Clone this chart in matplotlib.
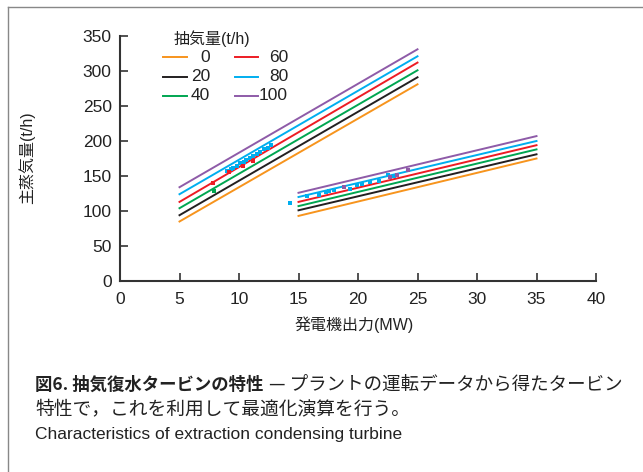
import matplotlib
matplotlib.use('Agg')
import matplotlib.pyplot as plt
from matplotlib.lines import Line2D

plt.rcParams['font.family'] = ['Liberation Sans', 'Noto Sans CJK JP', 'DejaVu Sans']

# ---- data ----
extraction = [0, 20, 40, 60, 80, 100]
labels = ['0', '20', '40', '60', '80', '100']
colors = ['#F7941D', '#231F20', '#00A651', '#ED1C24', '#00AEEF', '#8E5BA8']

low_x = [5, 25]
low_start = [85, 94, 104, 113, 124, 134]
low_end = [281, 291, 301, 312, 321, 331]
high_x = [15, 35]
high_start = [93, 101, 107, 113, 120, 126]
high_end = [175, 181, 188, 194, 200, 207]

# operating data points
blue_x = [9.0, 9.3, 9.5, 9.8, 10.1, 10.4, 10.6, 10.9, 11.2, 11.5, 11.8, 12.1, 12.4, 12.7,
          14.3, 15.7, 16.7, 17.3, 17.6, 18.0, 19.3, 19.9, 20.3, 21.0, 21.8, 22.5, 23.0]
blue_y = [157, 160, 161, 165, 168, 170, 173, 176, 178, 182, 185, 188, 190, 194,
          112, 122, 123, 127, 129, 130, 132, 137, 138, 142, 143, 151, 150]
red_x = [7.8, 9.2, 10.3, 11.2]
red_y = [140, 156, 165, 172]
green_x = [7.9]
green_y = [128]
purple_x = [18.8, 22.7, 23.3, 24.2]
purple_y = [134, 149, 151, 159]

xticks = [0, 5, 10, 15, 20, 25, 30, 35, 40]
yticks = [0, 50, 100, 150, 200, 250, 300, 350]

W, H = 643, 472
fig = plt.figure(figsize=(W / 100, H / 100), dpi=100)
ax = fig.add_axes([120 / W, 1 - 281 / H, (596 - 120) / W, (281 - 36) / H])

axis_col = '#333333'
txt_col = '#222222'
for i in range(len(extraction)):
    ax.plot(low_x, [low_start[i], low_end[i]], color=colors[i], lw=1.4)
    ax.plot(high_x, [high_start[i], high_end[i]], color=colors[i], lw=1.4)

ms = 2.4
ax.plot(blue_x, blue_y, 's', color=colors[4], ms=ms, mew=0)
ax.plot(red_x, red_y, 's', color=colors[3], ms=ms, mew=0)
ax.plot(green_x, green_y, 's', color=colors[2], ms=ms, mew=0)
ax.plot(purple_x, purple_y, 's', color=colors[5], ms=ms, mew=0)

ax.set_xlim(0, 40)
ax.set_ylim(0, 350)
ax.set_xticks(xticks)
ax.set_yticks(yticks)
for s in ['top', 'right']:
    ax.spines[s].set_visible(False)
for s in ['left', 'bottom']:
    ax.spines[s].set_color(axis_col)
    ax.spines[s].set_linewidth(1.5)
ax.tick_params(direction='in', length=6, width=1.2, color=axis_col,
               labelsize=12.5, labelcolor=txt_col)
ax.tick_params(axis='x', pad=8)
ax.tick_params(axis='y', pad=6)

ax.set_xlabel('発電機出力(MW)', fontsize=11.5, color=txt_col)
ax.xaxis.set_label_coords((354 - 120) / 476, (281 - 325) / 245)
ax.xaxis.label.set_va('center')
ax.set_ylabel('主蒸気量(t/h)', fontsize=11.5, color=txt_col)
ax.yaxis.set_label_coords((27 - 120) / 476, (281 - 158) / 245)
ax.yaxis.label.set_va('center')

# legend (drawn in axes-fraction coordinates)
def axpos(px, py):
    return (px - 120) / 476, (281 - py) / 245

tx, ty = axpos(174, 39)
ax.text(tx, ty, '抽気量(t/h)', transform=ax.transAxes, fontsize=11.5, color=txt_col,
        ha='left', va='center')
rows = [57, 76.5, 95.5]
for i in range(6):
    col, row = divmod(i, 3)
    x0, x1, xr = [(163, 187, 210), (235, 258, 288)][col]
    py = rows[row]
    a0, b = axpos(x0, py)
    a1, _ = axpos(x1, py)
    ar, _ = axpos(xr, py)
    ax.add_line(Line2D([a0, a1], [b, b], transform=ax.transAxes, color=colors[i], lw=1.4))
    ax.text(ar, b, labels[i], transform=ax.transAxes, fontsize=12.5, color=txt_col,
            ha='right', va='center')

# caption
cjk = ['Noto Sans CJK JP', 'DejaVu Sans']
t1 = fig.text(35 / W, 1 - 385 / H, '図6. 抽気復水タービンの特性', fontsize=12.5,
              fontweight='bold', color=txt_col, va='center', family=cjk)
fig.canvas.draw()
r = fig.canvas.get_renderer()
bb = t1.get_window_extent(r)
fig.text((bb.x1 + 6) / W, 1 - 385 / H, '— プラントの運転データから得たタービン', fontsize=13.3,
         color=txt_col, va='center', family=cjk)
fig.text(35 / W, 1 - 409 / H, '特性で，これを利用して最適化演算を行う。', fontsize=13.5,
         color=txt_col, va='center', family=cjk)
fig.text(35 / W, 1 - 434 / H, 'Characteristics of extraction condensing turbine', fontsize=12.5,
         color=txt_col, va='center', family=['Liberation Sans Narrow', 'Liberation Sans'])

# frame lines (left and top)
fig.add_artist(Line2D([8 / W, 8 / W], [0, 1 - 7 / H], transform=fig.transFigure,
                      color='#888888', lw=1))
fig.add_artist(Line2D([8 / W, 1], [1 - 7 / H, 1 - 7 / H], transform=fig.transFigure,
                      color='#888888', lw=1))

fig.savefig('out.png', dpi=100)
